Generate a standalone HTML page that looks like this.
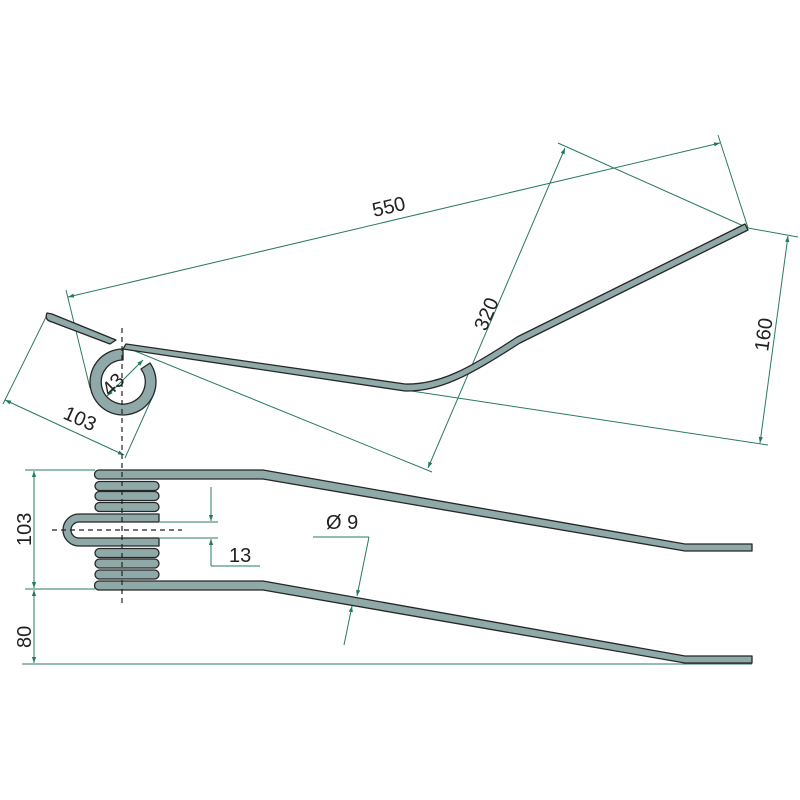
<!DOCTYPE html>
<html><head><style>body{margin:0;background:#fff}svg{display:block}</style></head><body>
<svg width="800" height="800" viewBox="0 0 800 800" xmlns="http://www.w3.org/2000/svg">
<defs>
<marker id="a" viewBox="0 0 10 10" refX="10" refY="5" markerWidth="9" markerHeight="6" orient="auto-start-reverse" markerUnits="userSpaceOnUse"><path d="M0,1.5 L10,5 L0,8.5z" fill="#1e7a60"/></marker>
</defs>
<g stroke="#2a7a62" stroke-width="1" fill="none">
<line x1="68" y1="297" x2="720" y2="143" marker-start="url(#a)" marker-end="url(#a)"/>
<line x1="66" y1="290" x2="90" y2="388"/>
<line x1="718" y1="135" x2="748" y2="228"/>
<line x1="565" y1="148" x2="428" y2="468" marker-start="url(#a)" marker-end="url(#a)"/>
<line x1="558" y1="143" x2="748" y2="228"/>
<line x1="125" y1="347" x2="432" y2="472"/>
<line x1="788" y1="236" x2="760" y2="443" marker-start="url(#a)" marker-end="url(#a)"/>
<line x1="748" y1="228" x2="798" y2="237"/>
<line x1="405" y1="390" x2="768" y2="445"/>
<line x1="5" y1="400" x2="124" y2="455" marker-start="url(#a)" marker-end="url(#a)"/>
<line x1="47" y1="315" x2="3" y2="404"/>
<line x1="152" y1="398" x2="125" y2="458"/>
<line x1="107" y1="396" x2="143" y2="360" marker-start="url(#a)" marker-end="url(#a)"/>
<line x1="25" y1="470" x2="95" y2="470"/>
<line x1="25" y1="589" x2="95" y2="589"/>
<line x1="22" y1="664" x2="752" y2="664"/>
<line x1="34" y1="471" x2="34" y2="588" marker-start="url(#a)" marker-end="url(#a)"/>
<line x1="34" y1="590" x2="34" y2="663" marker-start="url(#a)" marker-end="url(#a)"/>
<line x1="160" y1="522" x2="218" y2="522"/>
<line x1="160" y1="538" x2="218" y2="538"/>
<line x1="211" y1="487" x2="211" y2="521" marker-end="url(#a)"/>
<line x1="211" y1="566" x2="211" y2="539" marker-end="url(#a)"/>
<line x1="211" y1="566" x2="260" y2="566"/>
<line x1="313" y1="537" x2="369" y2="537"/>
<line x1="369" y1="537" x2="357" y2="596" marker-end="url(#a)"/>
<line x1="344" y1="645" x2="352" y2="606" marker-end="url(#a)"/>
</g>
<g fill="#8fa9a8" stroke="#262626" stroke-width="1.3" stroke-linejoin="round">
<path d="M47,313 Q44,320 52,322 L110,344 L116,340 L52,314 Z"/>
<path d="M123,349 L405,391 C440,392 470,375 520,343 L748,230 L745,224 L517,337 C470,368 440,385 405,384 L126,344 Z"/>
<path d="M123,349 A33,33 0 1 0 150,363 L141,369 A22,22 0 1 1 123,360 Z"/>
<path d="M99,470 L263,470 L685,544 L752,544 L752,551 L685,551 L263,479 L99,479 A4.5,4.5 0 0 1 99,470Z"/>
<path d="M99,581 L263,581 L685,656 L752,656 L752,663 L685,663 L263,590 L99,590 A4.5,4.5 0 0 1 99,581Z"/>
<rect x="95" y="481.5" width="64" height="9" rx="4.5"/>
<rect x="95" y="491.5" width="64" height="9" rx="4.5"/>
<rect x="95" y="502.5" width="64" height="9" rx="4.5"/>
<rect x="95" y="548.5" width="64" height="9" rx="4.5"/>
<rect x="95" y="559" width="64" height="9" rx="4.5"/>
<rect x="95" y="570" width="64" height="9" rx="4.5"/>
<path d="M159,514 L79,514 A16,16 0 0 0 79,546 L159,546 L159,538 L79,538 A8,8 0 0 1 79,522 L159,522 Z"/>
</g>
<g stroke="#222" stroke-width="1.2" stroke-dasharray="5,4" fill="none">
<line x1="122" y1="328" x2="122" y2="460"/>
<line x1="122" y1="463" x2="122" y2="605"/>
<line x1="52" y1="530" x2="182" y2="530"/>
</g>
<g font-family="Liberation Sans, sans-serif" font-size="20" fill="#222">
<text x="374" y="217" transform="rotate(-13 374 217)">550</text>
<text x="486" y="332" transform="rotate(-67 486 332)">320</text>
<text x="768" y="352" transform="rotate(-82 768 352)">160</text>
<text x="62" y="418" transform="rotate(24 62 418)">103</text>
<text x="110" y="397" transform="rotate(-45 110 397)">43</text>
<text x="31" y="546" transform="rotate(-90 31 546)">103</text>
<text x="31" y="648" transform="rotate(-90 31 648)">80</text>
<text x="229" y="562">13</text>
<text x="326" y="529">Ø 9</text>
</g>
</svg>
</body></html>
